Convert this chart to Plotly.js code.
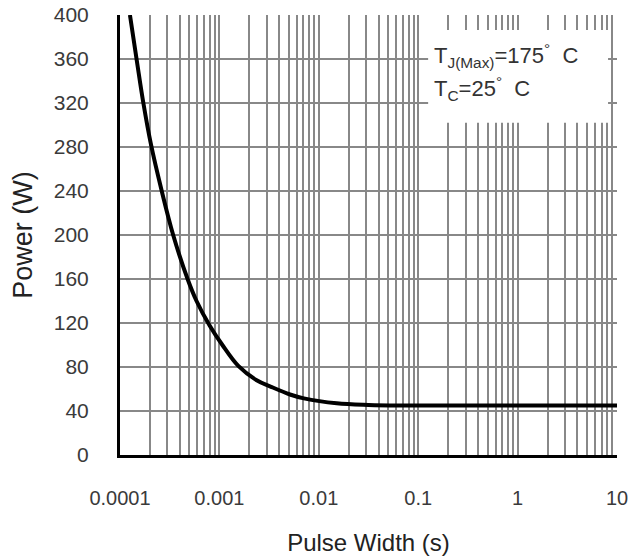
<!DOCTYPE html>
<html>
<head>
<meta charset="utf-8">
<script src="https://cdn.plot.ly/plotly-3.0.1.min.js"></script>
<style>html,body{margin:0;padding:0;background:#fff;}#chart{width:641px;height:560px;}</style>
</head>
<body>
<div id="chart"></div>
<script>
const pulseWidth = [1.259e-4, 1.479e-4, 1.718e-4, 2.042e-4, 2.630e-4, 3.428e-4, 4.786e-4, 5.888e-4, 7.943e-4, 1.072e-3, 1.549e-3, 2.371e-3, 3.311e-3, 5.129e-3, 7.079e-3, 1.514e-2, 3.162e-2, 6.31e-2, 0.2, 1, 10];
const power = [400, 358, 320, 283, 240, 200, 160, 140, 118, 100, 81, 68, 62, 55, 51.5, 47, 45.5, 45, 45, 45, 45];
const xTickVals = [0.0001, 0.001, 0.01, 0.1, 1, 10];
const xTickText = ['0.0001', '0.001', '0.01', '0.1', '1', '10'];
const yTickVals = [0, 40, 80, 120, 160, 200, 240, 280, 320, 360, 400];

const font = 'Liberation Sans, Arial, sans-serif';
const trace = {
  x: pulseWidth, y: power, type: 'scatter', mode: 'lines',
  line: {color: '#000', width: 4, shape: 'spline', smoothing: 1},
  hoverinfo: 'skip'
};
const layout = {
  width: 641, height: 560,
  margin: {l: 120, r: 24, t: 15, b: 105},
  paper_bgcolor: '#fff', plot_bgcolor: '#fff',
  showlegend: false,
  font: {family: font, color: '#333'},
  xaxis: {
    type: 'log', range: [-4, 1],
    tickvals: xTickVals, ticktext: xTickText,
    ticks: '', ticklabelstandoff: 23,
    tickfont: {size: 20, color: '#3a3a3a'},
    showgrid: true, gridcolor: '#888', gridwidth: 2,
    minor: {showgrid: true, dtick: 'D1', gridcolor: '#888', gridwidth: 2, ticks: ''},
    showline: true, linecolor: '#000', linewidth: 3,
    zeroline: false,
    title: {text: 'Pulse Width (s)', font: {size: 24, color: '#222'}, standoff: 27}
  },
  yaxis: {
    range: [0, 400], tickvals: yTickVals,
    ticks: '', ticklabelstandoff: 24,
    tickfont: {size: 21, color: '#3a3a3a'},
    showgrid: true, gridcolor: '#888', gridwidth: 2,
    showline: true, linecolor: '#000', linewidth: 3,
    zeroline: false,
    title: {text: 'Power (W)', font: {size: 27, color: '#222'}, standoff: 14}
  },
  shapes: [{
    type: 'rect', xref: 'paper', yref: 'paper',
    x0: 0.62, x1: 0.982, y0: 0.755, y1: 0.966,
    fillcolor: '#fff', line: {width: 0}, layer: 'above'
  }],
  annotations: [
    {xref: 'paper', yref: 'paper', x: 0.628, y: 0.908, xanchor: 'left', yanchor: 'middle', showarrow: false,
     text: 'T<sub>J(Max)</sub>=175<sup>°</sup>  C', font: {size: 22, color: '#333', family: font}},
    {xref: 'paper', yref: 'paper', x: 0.628, y: 0.833, xanchor: 'left', yanchor: 'middle', showarrow: false,
     text: 'T<sub>C</sub>=25<sup>°</sup>  C', font: {size: 22, color: '#333', family: font}}
  ]
};
Plotly.newPlot('chart', [trace], layout, {staticPlot: true, displayModeBar: false});
</script>
</body>
</html>
